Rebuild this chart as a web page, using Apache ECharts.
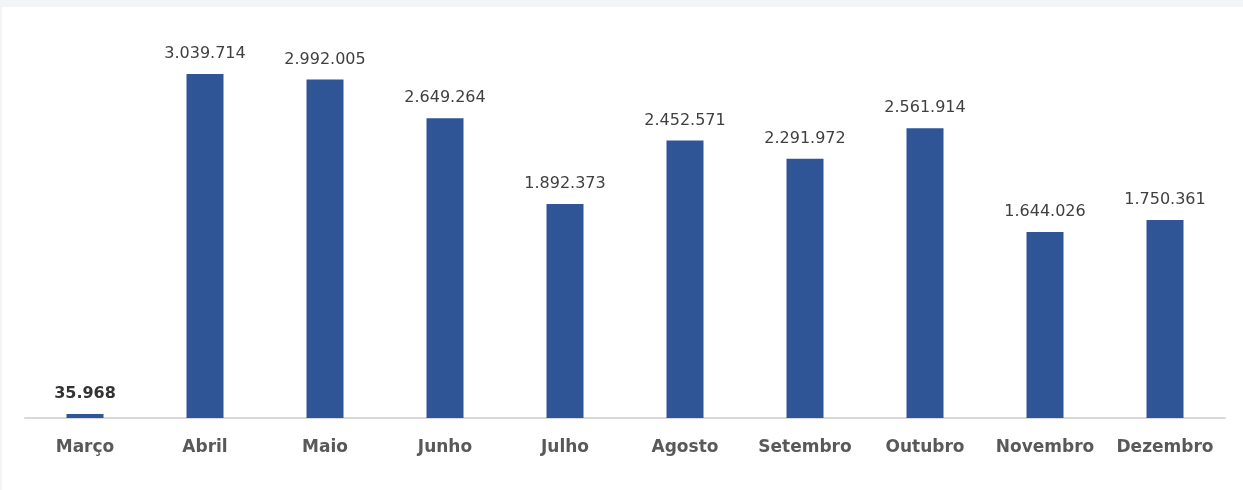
<!DOCTYPE html>
<html>
<head>
<meta charset="utf-8">
<script src="https://cdn.jsdelivr.net/npm/echarts@6/dist/echarts.min.js"></script>
<style>
  html, body { margin: 0; padding: 0; background: #f3f4f6; }
  #chart { position: absolute; left: 2px; top: 7px; width: 1241px; height: 483px; background: #fff; }
</style>
</head>
<body>
<div id="chart"></div>
<script>
// meses e valores
const months = ['Março', 'Abril', 'Maio', 'Junho', 'Julho', 'Agosto', 'Setembro', 'Outubro', 'Novembro', 'Dezembro'];
const values = [35968, 3039714, 2992005, 2649264, 1892373, 2452571, 2291972, 2561914, 1644026, 1750361];

function fmt(v) {
  return String(v).replace(/\B(?=(\d{3})+(?!\d))/g, '.');
}

const seriesData = values.map(function (v, i) {
  // o primeiro rótulo aparece em negrito no original
  if (i === 0) {
    return { value: v, label: { fontWeight: 'bold', color: '#333' } };
  }
  return v;
});

const chart = echarts.init(document.getElementById('chart'));
chart.setOption({
  animation: false,
  grid: { left: 23, right: 18, top: 15, bottom: 72 },
  xAxis: {
    type: 'category',
    data: months,
    axisLine: { lineStyle: { color: '#d9d9d9', width: 2 } },
    axisTick: { show: false },
    axisLabel: {
      interval: 0,
      hideOverlap: false,
      color: '#595959',
      fontFamily: 'DejaVu Sans',
      fontWeight: 'bold',
      fontSize: 17,
      margin: 21
    }
  },
  yAxis: {
    type: 'value',
    min: 0,
    max: 3500000,
    show: false,
    splitLine: { show: false }
  },
  series: [{
    type: 'bar',
    data: seriesData,
    barWidth: 37,
    itemStyle: { color: '#2f5597' },
    label: {
      show: true,
      position: 'top',
      distance: 12,
      color: '#404040',
      fontFamily: 'DejaVu Sans',
      fontSize: 16,
      formatter: function (p) { return fmt(p.value); }
    }
  }]
});
</script>
</body>
</html>
